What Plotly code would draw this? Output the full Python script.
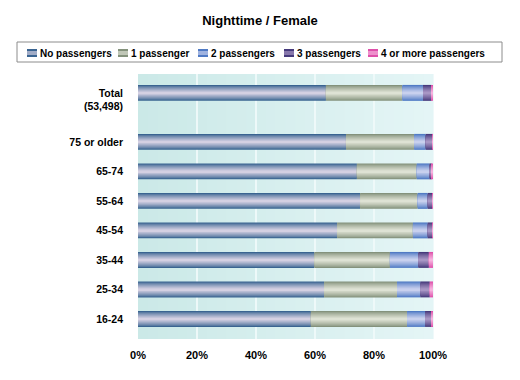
import plotly.graph_objects as go

# ---------------- data ----------------
series_names = ["No passengers", "1 passenger", "2 passengers", "3 passengers", "4 or more passengers"]
categories = ["<br>Total<br>(53,498)", "75 or older", "65-74", "55-64", "45-54", "35-44", "25-34", "16-24"]
no_passengers = [63.7, 70.5, 74.2, 75.3, 67.5, 59.8, 63.1, 58.6]
one_passenger = [25.9, 23.1, 20.3, 19.5, 25.7, 25.6, 24.7, 32.6]
two_passengers = [7.0, 3.9, 4.3, 3.4, 5.0, 9.6, 7.9, 6.1]
three_passengers = [2.9, 2.4, 0.7, 1.5, 1.6, 3.6, 3.2, 2.2]
four_plus = [0.5, 0.1, 0.5, 0.3, 0.2, 1.4, 1.1, 0.5]
x_ticks = [0, 20, 40, 60, 80, 100]
title_text = "Nighttime / Female"

series_values = [no_passengers, one_passenger, two_passengers, three_passengers, four_plus]

# ---------------- style ----------------
# (edge colour, centre colour) per series
series_colors = [
    ((58, 100, 145), (212, 208, 226)),
    ((132, 146, 124), (222, 226, 212)),
    ((80, 122, 196), (200, 208, 238)),
    ((70, 58, 124), (168, 150, 196)),
    ((222, 80, 170), (246, 178, 222)),
]
FONT = "Liberation Sans"
OFF = 8  # page body margin
W, H = 520 - OFF, 380 - OFF
L, R, T, B = 138 - OFF, 87, 74 - OFF, 41
bar_w = 0.54
group_gap = 0.66
n_bands = 8

n = len(categories)
ypos = [float(n - 1 - i) for i in range(n)]
ypos[0] += group_gap  # extra space under the Total row


def mix(c1, c2, t):
    return "rgb(%d,%d,%d)" % tuple(round(a + (b - a) * t) for a, b in zip(c1, c2))


fig = go.Figure()

# cumulative bases
bases = []
run = [0.0] * n
for vals in series_values:
    bases.append(list(run))
    run = [r + v for r, v in zip(run, vals)]

for s, (name, vals) in enumerate(zip(series_names, series_values)):
    edge, centre = series_colors[s]
    for k in range(n_bands):
        t = k / (n_bands - 1)
        width = bar_w * (1 - k / n_bands)
        fig.add_trace(go.Bar(
            x=vals, y=ypos, base=bases[s], orientation="h",
            width=width, name=name, legendgroup=name,
            marker=dict(color=mix(edge, centre, t ** 0.8), line=dict(width=0)),
            showlegend=False, hoverinfo="x+name",
        ))

# background gradient bands
shapes = []
nb = 30
c_left, c_right = (203, 233, 231), (228, 245, 246)
for i in range(nb):
    shapes.append(dict(
        type="rect", xref="x domain", yref="y domain",
        x0=i / nb, x1=(i + 1) / nb + 0.002, y0=0, y1=1,
        fillcolor=mix(c_left, c_right, i / (nb - 1)), line=dict(width=0), layer="below",
    ))


def px_x(px):
    return (px - OFF - L) / (W - L - R)


def px_y(py):
    return (H + OFF - B - py) / (H - T - B)


# manual legend (box + swatches + labels)
shapes.append(dict(type="rect", xref="paper", yref="paper",
                   x0=px_x(17), x1=px_x(502), y0=px_y(62), y1=px_y(42),
                   line=dict(color="#8c8c8c", width=1), fillcolor="white", layer="above"))
legend_x = [27, 118, 198, 284, 368]
annotations = []
for s, name in enumerate(series_names):
    edge, centre = series_colors[s]
    x0 = legend_x[s]
    steps = 4
    for k in range(steps):
        ya = 49 + k * 8 / steps
        shapes.append(dict(type="rect", xref="paper", yref="paper",
                           x0=px_x(x0), x1=px_x(x0 + 10),
                           y0=px_y(ya + 8 / steps), y1=px_y(ya),
                           fillcolor=mix(edge, centre, 1 - abs(k - 1.5) / 1.5),
                           line=dict(width=0), layer="above"))
    annotations.append(dict(text="<b>%s</b>" % name, xref="paper", yref="paper",
                            x=px_x(x0 + 11), y=px_y(53), xanchor="left", yanchor="middle",
                            showarrow=False, font=dict(family=FONT, size=10, color="black")))

fig.update_layout(
    width=W, height=H,
    margin=dict(l=L, r=R, t=T, b=B),
    paper_bgcolor="white", plot_bgcolor="#d6eeee",
    barmode="overlay",
    showlegend=False,
    title=dict(text="<b>%s</b>" % title_text, x=px_x(260), xref="paper", xanchor="center",
               y=1 - (20 - OFF) / H, yanchor="middle",
               font=dict(family=FONT, size=13, color="black")),
    font=dict(family=FONT, color="black"),
    shapes=shapes,
    annotations=annotations,
    xaxis=dict(range=[0, 100], tickvals=x_ticks, ticktext=["<b>%d%%</b>" % v for v in x_ticks],
               showgrid=True, gridcolor="rgba(240,250,250,0.9)", gridwidth=2,
               zeroline=False, showline=False, ticks="", ticklabelstandoff=8,
               tickfont=dict(family=FONT, size=11, color="black"), fixedrange=True),
    yaxis=dict(range=[-0.68, 8.3], tickvals=ypos, ticktext=["<b>%s</b>" % c for c in categories],
               showgrid=False, zeroline=False, showline=False, ticks="", ticklabelstandoff=14,
               tickfont=dict(family=FONT, size=10.5, color="black"), fixedrange=True),
)

fig.write_html("out.html")
